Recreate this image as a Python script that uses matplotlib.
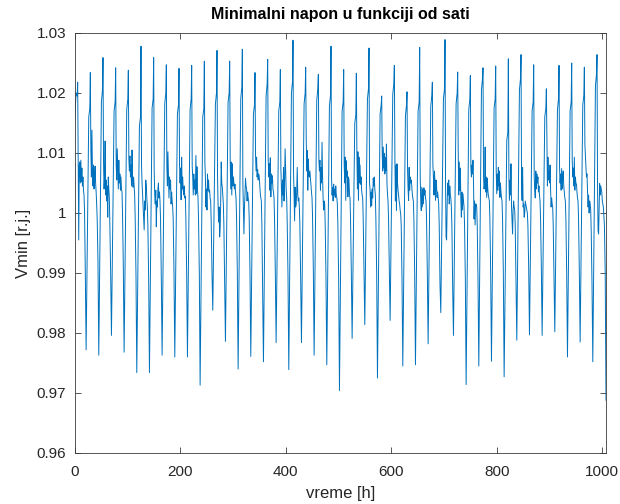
import numpy as np
import matplotlib
matplotlib.use("Agg")
import matplotlib.pyplot as plt

# ---- data (hours, per-unit voltage) ----
start_value = 1.0152          # value at hour 0
# daily peak values (peak k at hour 6 + 24k)
peaks = [1.0218, 1.0234, 1.0259, 1.0242, 1.0238, 1.0278, 1.0259, 1.0247, 1.0241, 1.0246,
         1.0253, 1.0271, 1.0253, 1.0273, 1.0234, 1.0256, 1.0239, 1.0288, 1.0243, 1.0231,
         1.0278, 1.0239, 1.0233, 1.0275, 1.0195, 1.0246, 1.0202, 1.0276, 1.0218, 1.0289,
         1.0235, 1.0229, 1.0242, 1.0245, 1.0257, 1.0264, 1.0247, 1.0207, 1.0246, 1.0250,
         1.0243, 1.0264]
# daily minimum values (dip after peak k)
dips = [0.9772, 0.9763, 0.9796, 0.9768, 0.9734, 0.9734, 0.9763, 0.9760, 0.9760, 0.9713,
        0.9838, 0.9786, 0.9740, 0.9761, 0.9752, 0.9784, 0.9739, 0.9784, 0.9763, 0.9747,
        0.9704, 0.9791, 0.9814, 0.9725, 0.9821, 0.9745, 0.9747, 0.9782, 0.9834, 0.9796,
        0.9714, 0.9745, 0.9753, 0.9727, 0.9788, 0.9797, 0.9796, 0.9802, 0.9760, 0.9785,
        0.9752, 0.9688]
# shoulder values on the rise before each peak (3 h and 1 h before peak)
shoulder1 = [1.0200, 1.0160, 1.0185, 1.0170, 1.0172, 1.0145, 1.0175, 1.0182, 1.0165, 1.0172,
             1.0160, 1.0182, 1.0185, 1.0190, 1.0165, 1.0195, 1.0170, 1.0200, 1.0182, 1.0188,
             1.0178, 1.0170, 1.0150, 1.0190, 1.0165, 1.0198, 1.0162, 1.0170, 1.0178, 1.0190,
             1.0182, 1.0172, 1.0205, 1.0175, 1.0120, 1.0205, 1.0170, 1.0160, 1.0172, 1.0170,
             1.0180, 1.0212]
shoulder2 = [1.0195, 1.0174, 1.0205, 1.0185, 1.0190, 1.0160, 1.0190, 1.0200, 1.0180, 1.0190,
             1.0174, 1.0200, 1.0200, 1.0210, 1.0180, 1.0215, 1.0185, 1.0218, 1.0200, 1.0207,
             1.0196, 1.0185, 1.0163, 1.0207, 1.0180, 1.0215, 1.0180, 1.0185, 1.0196, 1.0207,
             1.0200, 1.0190, 1.0224, 1.0190, 1.0135, 1.0224, 1.0185, 1.0174, 1.0190, 1.0185,
             1.0196, 1.0232]
# values on the descent towards each dip
pre_dip1 = [1.0005, 0.9990, 0.9980, 1.0000, 0.9990, 0.9980, 0.9990, 0.9990, 0.9990, 0.9990,
            0.9985, 0.9980, 0.9995, 0.9990, 0.9980, 0.9990, 0.9985, 0.9980, 0.9995, 0.9980,
            0.9980, 0.9990, 0.9990, 0.9990, 0.9990, 0.9980, 0.9990, 0.9990, 0.9980, 0.9980,
            0.9980, 0.9980, 0.9990, 0.9990, 0.9980, 0.9980, 0.9990, 0.9980, 0.9990, 0.9990,
            0.9970, 0.9980]
pre_dip2 = [0.9900, 0.9918, 0.9900, 0.9910, 0.9895, 0.9890, 0.9890, 0.9900, 0.9900, 0.9900,
            0.9900, 0.9880, 0.9900, 0.9900, 0.9870, 0.9900, 0.9895, 0.9890, 0.9905, 0.9890,
            0.9890, 0.9900, 0.9900, 0.9900, 0.9900, 0.9890, 0.9900, 0.9900, 0.9880, 0.9875,
            0.9890, 0.9890, 0.9900, 0.9900, 0.9890, 0.9910, 0.9910, 0.9890, 0.9900, 0.9900,
            0.9880, 0.9900]
# hourly values in the plateau after each peak (hours +1 ... +12)
plateau = [
    [1.0090, 0.9955, 1.0080, 1.0085, 1.0050, 1.0088, 1.0052, 1.0075, 1.0045, 1.0060, 1.0038, 1.0030],
    [1.0105, 1.0060, 1.0138, 1.0070, 1.0045, 1.0080, 1.0040, 1.0055, 1.0078, 1.0050, 1.0035, 1.0015],
    [1.0085, 1.0040, 1.0060, 1.0120, 1.0030, 1.0055, 1.0020, 1.0045, 0.9993, 1.0060, 1.0040, 1.0025],
    [1.0080, 1.0055, 1.0107, 1.0075, 1.0040, 1.0088, 1.0050, 1.0065, 1.0038, 1.0060, 1.0040, 1.0035],
    [1.0090, 1.0070, 1.0095, 1.0060, 1.0080, 1.0045, 1.0105, 1.0055, 1.0043, 1.0060, 1.0045, 1.0030],
    [1.0080, 1.0050, 1.0030, 1.0010, 0.9990, 0.9972, 1.0020, 1.0005, 1.0055, 1.0045, 1.0025, 1.0010],
    [1.0070, 1.0030, 1.0015, 1.0038, 0.9977, 1.0020, 1.0010, 1.0040, 1.0050, 1.0025, 1.0035, 1.0020],
    [1.0075, 1.0045, 1.0102, 1.0060, 1.0025, 1.0060, 1.0040, 1.0055, 1.0015, 1.0035, 1.0020, 1.0010],
    [1.0080, 1.0050, 1.0075, 1.0022, 1.0093, 1.0040, 1.0060, 1.0038, 1.0030, 1.0045, 1.0025, 1.0028],
    [1.0078, 1.0060, 1.0030, 1.0065, 1.0040, 1.0055, 1.0030, 1.0096, 1.0032, 1.0077, 1.0040, 1.0025],
    [1.0085, 1.0060, 1.0010, 1.0040, 1.0005, 1.0065, 1.0038, 1.0055, 1.0035, 1.0038, 1.0025, 1.0020],
    [1.0060, 1.0015, 0.9985, 1.0010, 0.9960, 0.9975, 1.0020, 1.0085, 1.0050, 1.0043, 1.0030, 1.0015],
    [1.0088, 1.0040, 1.0085, 1.0030, 1.0082, 1.0045, 1.0060, 1.0050, 1.0040, 1.0048, 1.0035, 1.0025],
    [1.0050, 1.0005, 0.9965, 1.0010, 1.0030, 1.0058, 1.0045, 1.0040, 1.0020, 1.0035, 1.0025, 1.0020],
    [1.0095, 1.0070, 1.0093, 1.0060, 1.0072, 1.0055, 1.0065, 1.0060, 1.0045, 1.0032, 1.0025, 1.0020],
    [1.0090, 1.0060, 1.0082, 1.0038, 1.0092, 1.0027, 1.0065, 1.0050, 1.0062, 1.0040, 1.0035, 1.0025],
    [1.0075, 1.0040, 1.0010, 1.0055, 1.0030, 1.0076, 1.0020, 1.0050, 1.0107, 1.0076, 1.0040, 1.0025],
    [1.0070, 1.0030, 0.9987, 1.0043, 1.0010, 1.0015, 1.0035, 1.0076, 1.0030, 1.0020, 1.0025, 1.0010],
    [1.0129, 1.0070, 1.0104, 1.0038, 1.0090, 1.0065, 1.0060, 1.0070, 1.0058, 1.0045, 1.0035, 1.0025],
    [1.0090, 1.0070, 1.0088, 1.0038, 1.0076, 1.0050, 1.0118, 1.0060, 1.0025, 1.0005, 1.0020, 1.0015],
    [1.0060, 1.0030, 1.0043, 1.0020, 1.0048, 1.0030, 1.0040, 1.0026, 1.0045, 1.0030, 1.0025, 1.0015],
    [1.0080, 1.0050, 1.0093, 1.0021, 1.0087, 1.0060, 1.0070, 1.0027, 1.0060, 1.0055, 1.0030, 1.0025],
    [1.0099, 1.0040, 1.0102, 1.0021, 1.0093, 1.0050, 1.0080, 1.0048, 1.0060, 1.0038, 1.0030, 1.0025],
    [1.0050, 1.0038, 1.0010, 1.0035, 1.0012, 1.0040, 1.0025, 1.0058, 1.0045, 1.0060, 1.0040, 1.0030],
    [1.0099, 1.0070, 1.0110, 1.0075, 1.0099, 1.0065, 1.0092, 1.0070, 1.0115, 1.0050, 1.0032, 1.0020],
    [1.0093, 1.0020, 1.0080, 1.0004, 1.0082, 1.0050, 1.0038, 1.0030, 1.0020, 1.0015, 1.0005, 0.9998],
    [1.0071, 1.0040, 1.0021, 1.0076, 1.0038, 1.0060, 1.0050, 1.0055, 1.0045, 1.0032, 1.0025, 1.0020],
    [1.0060, 1.0020, 1.0004, 1.0043, 1.0010, 1.0040, 1.0015, 1.0042, 1.0030, 1.0038, 1.0025, 1.0020],
    [1.0080, 1.0060, 1.0030, 1.0070, 1.0050, 1.0021, 1.0055, 1.0045, 1.0026, 1.0035, 1.0025, 1.0015],
    [1.0050, 0.9960, 0.9955, 1.0010, 1.0050, 1.0030, 1.0055, 1.0015, 1.0045, 1.0030, 1.0025, 1.0010],
    [1.0104, 1.0030, 1.0085, 1.0038, 1.0075, 1.0020, 0.9993, 1.0035, 1.0005, 1.0032, 1.0020, 1.0010],
    [1.0075, 1.0060, 1.0080, 1.0065, 1.0088, 1.0050, 0.9990, 1.0020, 0.9980, 1.0015, 1.0015, 1.0010],
    [1.0060, 1.0040, 1.0050, 1.0110, 1.0035, 1.0060, 1.0026, 1.0058, 1.0040, 1.0030, 1.0025, 1.0020],
    [1.0071, 1.0032, 1.0065, 1.0038, 1.0076, 1.0045, 1.0070, 1.0026, 1.0050, 1.0035, 1.0025, 1.0020],
    [1.0060, 1.0021, 1.0055, 1.0030, 1.0082, 1.0010, 0.9985, 0.9965, 1.0005, 1.0020, 1.0010, 1.0005],
    [1.0050, 1.0021, 1.0076, 1.0010, 1.0015, 0.9993, 1.0000, 1.0020, 1.0015, 1.0010, 1.0005, 1.0000],
    [1.0060, 1.0038, 1.0025, 1.0070, 1.0040, 1.0065, 1.0050, 1.0060, 1.0035, 1.0045, 1.0030, 1.0020],
    [1.0121, 1.0045, 1.0093, 1.0055, 1.0070, 1.0050, 1.0080, 1.0040, 1.0010, 1.0025, 1.0015, 1.0010],
    [1.0076, 1.0050, 1.0065, 1.0038, 1.0074, 1.0040, 1.0060, 1.0070, 1.0045, 1.0035, 1.0025, 1.0020],
    [1.0088, 1.0060, 1.0075, 1.0045, 1.0093, 1.0038, 1.0060, 1.0050, 1.0048, 1.0035, 1.0025, 1.0020],
    [1.0115, 1.0095, 1.0076, 1.0060, 1.0065, 1.0035, 1.0010, 1.0030, 1.0000, 1.0020, 1.0015, 1.0005],
    [1.0040, 0.9970, 0.9965, 1.0010, 1.0049, 1.0030, 1.0045, 1.0040, 1.0035, 1.0020, 1.0015, 1.0010],
]
first_peak_hour = 6
day_hours = 24
last_hour = 1007

# ---- assemble the hourly series ----
hours = [0]
values = [start_value]
n_days = len(peaks)
for k in range(n_days):
    P = first_peak_hour + day_hours * k
    if k < n_days - 1:
        tail = [P + 13, P + 14.5, P + 16]
    else:
        tail = [last_hour - 3, last_hour - 1.5, last_hour]
    hours += [P - 3, P - 1, P] + [P + i for i in range(1, 13)] + tail
    values += [shoulder1[k], shoulder2[k], peaks[k]] + plateau[k] + \
              [pre_dip1[k], pre_dip2[k], dips[k]]

# ---- plot ----
plt.rcParams['font.family'] = ['Liberation Sans', 'DejaVu Sans']
fig = plt.figure(figsize=(6.2, 5.04), dpi=100)
ax = fig.add_axes([74.5 / 620, 51 / 504, 531.5 / 620, 420 / 504])
ax.plot(hours, values, color='#0072BD', linewidth=0.7)

ax.set_xlim(0, last_hour)
ax.set_ylim(0.96, 1.03)
ax.set_xticks([0, 200, 400, 600, 800, 1000])
yt = [0.96, 0.97, 0.98, 0.99, 1.0, 1.01, 1.02, 1.03]
ax.set_yticks(yt)
ax.set_yticklabels(['0.96', '0.97', '0.98', '0.99', '1', '1.01', '1.02', '1.03'])

axis_col = '#262626'
for s in ax.spines.values():
    s.set_color('#3a3a3a')
    s.set_linewidth(0.6)
ax.tick_params(direction='in', length=4, width=0.6, colors='#3a3a3a',
               labelcolor=axis_col, labelsize=11, top=True, right=True)
ax.tick_params(axis='x', pad=9)
ax.tick_params(axis='y', pad=6)

ax.set_title('Minimalni napon u funkciji od sati', fontsize=11.5,
             fontweight='bold', color='black', pad=10)
ax.set_xlabel('vreme [h]', fontsize=12, color=axis_col, labelpad=5)
ax.set_ylabel('Vmin [r.j.]', fontsize=12, color=axis_col, labelpad=4)

fig.savefig('out.png', dpi=100, facecolor='white')
